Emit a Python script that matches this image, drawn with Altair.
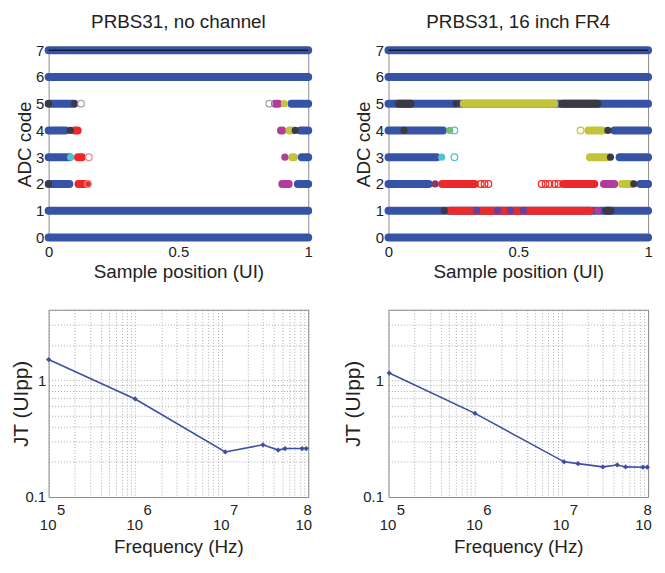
import altair as alt
import pandas as pd

FONT = "Liberation Sans"
TXT = "#222222"

# ---------------- colours used by the eye-diagram markers ----------------
COLOR_NAMES = ["blue", "red", "yellow", "magenta", "dark", "cyan", "gray",
               "lightred", "green", "purple", "darkred"]
COLOR_HEX = ["#3753A6", "#EC2828", "#C4C43A", "#B23C9C", "#3A3A44", "#4CC4D2",
             "#A8A8A8", "#F08A8A", "#7DBE60", "#5C44A0", "#8A3468"]

ADC_TICKS = [0, 1, 2, 3, 4, 5, 6, 7]
UI_TICKS = [0, 0.5, 1]

# ---------------- PRBS31, no channel ----------------
nc_seg_code = [7, 6, 1, 0, 5, 5, 5, 4, 4, 4, 4, 4, 3, 3, 3, 3, 2, 2, 2, 2]
nc_seg_x0 = [0, 0, 0, 0, 0, 0.872, 0.935, 0, 0.100, 0.895, 0.928, 0.970,
             0, 0.113, 0.938, 0.975, 0, 0.115, 0.900, 0.960]
nc_seg_x1 = [1, 1, 1, 1, 0.098, 0.885, 1, 0.065, 0.112, 0.900, 0.938, 1,
             0.080, 0.128, 0.945, 1, 0.080, 0.148, 0.925, 1]
nc_seg_col = ["blue", "blue", "blue", "blue", "blue", "magenta", "blue",
              "blue", "red", "magenta", "yellow", "blue",
              "blue", "red", "yellow", "blue", "blue", "red", "magenta", "blue"]

nc_dot_code = [5, 5, 5, 4, 4, 3, 3, 2]
nc_dot_x = [0.0, 0.100, 0.908, 0.083, 0.950, 0.085, 0.910, 0.0]
nc_dot_col = ["dark", "dark", "yellow", "dark", "dark", "cyan", "magenta", "dark"]

nc_ring_code = [5, 5, 3, 2]
nc_ring_x = [0.125, 0.850, 0.155, 0.152]
nc_ring_col = ["gray", "gray", "lightred", "lightred"]

# ---------------- PRBS31, 16 inch FR4 ----------------
fr_seg_code = [7, 6, 5, 1, 0, 5, 5, 5, 4, 4, 4, 3, 3, 3,
               2, 2, 2, 2, 2, 2, 1, 1]
fr_seg_x0 = [0, 0, 0, 0, 0, 0.040, 0.290, 0.670, 0, 0.770, 0.870, 0, 0.776, 0.890,
             0, 0.207, 0.673, 0.830, 0.900, 0.970, 0.240, 0.840]
fr_seg_x1 = [1, 1, 1, 1, 1, 0.085, 0.640, 0.805, 0.210, 0.825, 1, 0.186, 0.844, 1,
             0.155, 0.333, 0.793, 0.870, 0.935, 1, 0.775, 0.855]
fr_seg_col = ["blue", "blue", "blue", "blue", "blue", "dark", "yellow", "dark",
              "blue", "yellow", "blue", "blue", "yellow", "blue",
              "blue", "red", "red", "magenta", "yellow", "blue", "red", "dark"]

fr_dot_code = [5, 4, 4, 4, 3, 3, 2, 2, 1, 1, 1, 1, 1, 1]
fr_dot_x = [0.260, 0.060, 0.236, 0.845, 0.205, 0.855, 0.180, 0.945,
            0.215, 0.340, 0.420, 0.470, 0.520, 0.806]
fr_dot_col = ["dark", "dark", "green", "dark", "cyan", "dark", "darkred", "dark",
              "dark", "purple", "purple", "purple", "purple", "magenta"]

fr_ring_code = [4, 4, 3, 2, 2, 2, 2, 2, 2, 2, 2]
fr_ring_x = [0.254, 0.740, 0.254, 0.355, 0.370, 0.385, 0.590, 0.605, 0.620, 0.640, 0.655]
fr_ring_col = ["cyan", "yellow", "cyan", "red", "red", "red", "red", "red", "red", "red", "red"]

# ---------------- jitter tolerance ----------------
FREQ_TICKS = [1e5, 2e5, 3e5, 4e5, 5e5, 6e5, 7e5, 8e5, 9e5,
              1e6, 2e6, 3e6, 4e6, 5e6, 6e6, 7e6, 8e6, 9e6,
              1e7, 2e7, 3e7, 4e7, 5e7, 6e7, 7e7, 8e7, 9e7, 1e8]
FREQ_DECADES = [1e5, 1e6, 1e7, 1e8]
JT_TICKS = [0.1, 0.2, 0.3, 0.4, 0.5, 0.6, 0.7, 0.8, 0.9, 1, 2, 3, 4]

nc_freq = [1e5, 1e6, 1.1e7, 3e7, 4.5e7, 5.4e7, 8.5e7, 9.5e7]
nc_jt = [1.50, 0.69, 0.243, 0.28, 0.252, 0.26, 0.26, 0.26]

fr_freq = [1.02e5, 1e6, 1.07e7, 1.55e7, 3e7, 4.4e7, 5.5e7, 8.7e7, 9.8e7]
fr_jt = [1.15, 0.52, 0.20, 0.193, 0.181, 0.188, 0.181, 0.180, 0.180]

LINE_BLUE = "#3D4FA3"
W, H = 262, 189

cscale = alt.Scale(domain=COLOR_NAMES, range=COLOR_HEX)


def eye_panel(title, seg, dots, rings, title_pad):
    xs = alt.Scale(domain=[0, 1], nice=False)
    ys = alt.Scale(domain=[0, 7], nice=False)
    xax = alt.Axis(values=UI_TICKS, title="Sample position (UI)", labelPadding=7,
                   titlePadding=3, labelFlush=False, ticks=False, domain=False,
                   grid=False, labelExpr="format(datum.value, '~g')")
    yax = alt.Axis(values=ADC_TICKS, title="ADC code", labelPadding=5, titlePadding=title_pad,
                   minExtent=13, maxExtent=13, ticks=False, domain=False, grid=False)
    col = alt.Color("c:N", scale=cscale, legend=None)
    bars = alt.Chart(seg).mark_rule(strokeWidth=8, strokeCap="round").encode(
        x=alt.X("x0:Q", scale=xs, axis=xax), x2="x1:Q",
        y=alt.Y("code:Q", scale=ys, axis=yax), color=col)
    d = alt.Chart(dots).mark_circle(size=52, opacity=1).encode(
        x=alt.X("x:Q", scale=xs, axis=xax), y=alt.Y("code:Q", scale=ys, axis=yax), color=col)
    r = alt.Chart(rings).mark_point(shape="circle", filled=False, size=46, strokeWidth=1.2,
                                    opacity=1).encode(
        x=alt.X("x:Q", scale=xs, axis=xax), y=alt.Y("code:Q", scale=ys, axis=yax), color=col)
    top = alt.Chart(pd.DataFrame({"code": [ADC_TICKS[-1]]})).mark_rule(
        color="black", strokeWidth=1).encode(y=alt.Y("code:Q", scale=ys, axis=yax))
    return alt.layer(bars, d, r, top).properties(
        width=W, height=H, title=alt.TitleParams(title, offset=11))


def jt_panel(freq, jt, title_pad, label_pad):
    df = pd.DataFrame({"f": freq, "jt": jt})
    xs = alt.Scale(type="log", domain=[1e5, 1e8], nice=False)
    ys = alt.Scale(type="log", domain=[0.1, 4], nice=False)
    is_dec = "abs(log(datum.value)/LN10 - round(log(datum.value)/LN10)) < 0.01"
    exp_expr = is_dec + " ? format(round(log(datum.value)/LN10), 'd') : ''"
    ten_expr = is_dec + " ? '10' : ''"
    yexpr = ("abs(datum.value - 0.1) < 0.000001 ? '0.1' : "
             "(abs(datum.value - 1) < 0.000001 ? '1' : '')")
    common = dict(ticks=False, domain=False, labelOverlap=False, labelFlush=False)
    # exponent labels + grid
    x_exp = alt.Axis(values=FREQ_TICKS, labelExpr=exp_expr, title=None, orient="bottom",
                     labelPadding=6,
                     labelOffset={"condition": {"test": "datum.value > 99999999", "value": -1},
                                  "value": 12},
                     grid=True, gridDash=[1, 2], gridColor="#8a8a8a", gridOpacity=0.9,
                     gridWidth=0.8, **common)
    # base "10" labels + title
    x_ten = alt.Axis(values=FREQ_DECADES, labelExpr=ten_expr, title="Frequency (Hz)",
                     orient="bottom", labelPadding=21,
                     labelOffset={"condition": {"test": "datum.value > 99999999", "value": -5},
                                  "value": -1},
                     titlePadding=5, titleFontSize=19, grid=False, **common)
    yax = alt.Axis(values=JT_TICKS, labelExpr=yexpr, title="JT (UIpp)",
                   labelPadding=label_pad, minExtent=14, maxExtent=14,
                   titlePadding=title_pad, titleFontSize=21,
                   grid=True, gridDash=[1, 2], gridColor="#8a8a8a", gridOpacity=0.9,
                   gridWidth=0.8, **common)
    line = alt.Chart(df).mark_line(color=LINE_BLUE, strokeWidth=1.6).encode(
        x=alt.X("f:Q", scale=xs, axis=x_exp), y=alt.Y("jt:Q", scale=ys, axis=yax))
    pts = alt.Chart(df).mark_point(shape="diamond", filled=True, size=28, color=LINE_BLUE,
                                   opacity=1).encode(
        x=alt.X("f:Q", scale=xs, axis=x_ten), y=alt.Y("jt:Q", scale=ys, axis=yax))
    return alt.layer(line, pts).resolve_axis(x="independent").properties(width=W, height=H)


nc_seg = pd.DataFrame({"code": nc_seg_code, "x0": nc_seg_x0, "x1": nc_seg_x1, "c": nc_seg_col})
nc_dot = pd.DataFrame({"code": nc_dot_code, "x": nc_dot_x, "c": nc_dot_col})
nc_ring = pd.DataFrame({"code": nc_ring_code, "x": nc_ring_x, "c": nc_ring_col})
fr_seg = pd.DataFrame({"code": fr_seg_code, "x0": fr_seg_x0, "x1": fr_seg_x1, "c": fr_seg_col})
fr_dot = pd.DataFrame({"code": fr_dot_code, "x": fr_dot_x, "c": fr_dot_col})
fr_ring = pd.DataFrame({"code": fr_ring_code, "x": fr_ring_x, "c": fr_ring_col})

tl = eye_panel("PRBS31, no channel", nc_seg, nc_dot, nc_ring, 1)
tr = eye_panel("PRBS31, 16 inch FR4", fr_seg, fr_dot, fr_ring, 2)
bl = jt_panel(nc_freq, nc_jt, 3, 3)
br = jt_panel(fr_freq, fr_jt, 11, 5)

chart = alt.concat(tl, tr, bl, br, columns=2, spacing={"row": 73, "column": 81},
                   bounds="flush").properties(
    padding={"left": 2, "top": 2, "right": 0, "bottom": 0}
).configure_view(stroke="#8c8c8c", strokeWidth=1).configure_axis(
    labelFont=FONT, titleFont=FONT, labelFontSize=15, titleFontSize=19,
    titleFontWeight="normal", labelColor=TXT, titleColor=TXT
).configure_title(font=FONT, fontSize=19, fontWeight="normal", anchor="middle", color=TXT)

chart.save("out.html", embed_options={"renderer": "svg", "actions": False})
